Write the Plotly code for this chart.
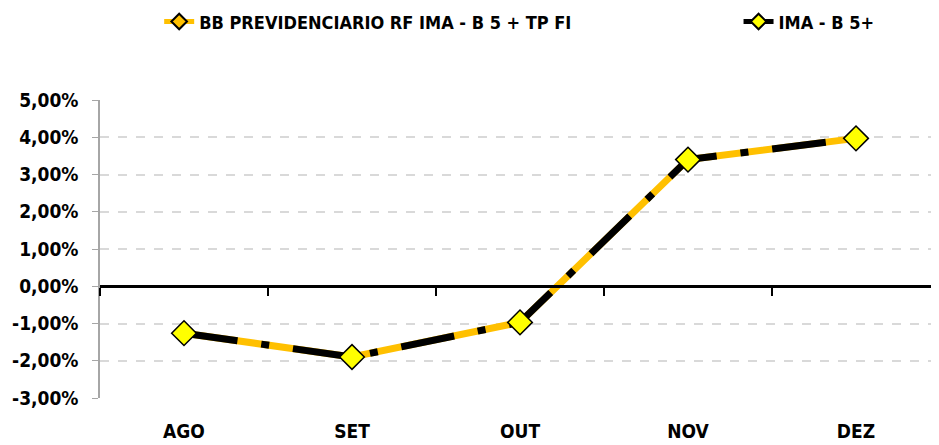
import plotly.graph_objects as go

months = ["AGO", "SET", "OUT", "NOV", "DEZ"]
bb_fund = [-1.26, -1.90, -0.97, 3.40, 3.97]
ima_b5 = [-1.26, -1.90, -0.97, 3.40, 3.97]
y_tickvals = [5, 4, 3, 2, 1, 0, -1, -2, -3]
y_ticktext = ["5,00%", "4,00%", "3,00%", "2,00%", "1,00%", "0,00%",
              "-1,00%", "-2,00%", "-3,00%"]

FONT = "DejaVu Sans Condensed, Liberation Sans Narrow, sans-serif"

fig = go.Figure()
fig.add_trace(go.Scatter(
    x=months, y=bb_fund, mode="lines+markers",
    name="BB PREVIDENCIARIO RF IMA - B 5 + TP FI", legend="legend",
    line=dict(color="#FFC000", width=7),
    marker=dict(symbol="diamond", size=10, color="#FFC000",
                line=dict(color="black", width=1.5)),
))
fig.add_trace(go.Scatter(
    x=months, y=ima_b5, mode="lines+markers",
    name="IMA - B 5+", legend="legend2",
    line=dict(color="black", width=7, dash="54px,24px,8px,24px"),
    marker=dict(symbol="diamond", size=19, color="#FFFF00",
                line=dict(color="black", width=1.5)),
))
fig.add_trace(go.Scatter(
    x=months, y=[None] * len(months), xaxis="x2", showlegend=False,
    hoverinfo="skip", mode="lines",
))

legend_common = dict(
    orientation="h", xref="container", yref="container",
    y=0.969, xanchor="left", yanchor="middle",
    font=dict(family=FONT, size=18, color="black", weight="bold"),
    itemsizing="constant", bgcolor="rgba(0,0,0,0)",
)

fig.update_layout(
    width=939, height=445,
    margin=dict(l=92, r=7, t=92, b=55, autoexpand=False),
    plot_bgcolor="white", paper_bgcolor="white",
    font=dict(family=FONT, color="black"),
    showlegend=True,
    legend=dict(x=0.161, **legend_common),
    legend2=dict(x=0.778, **legend_common),
    xaxis=dict(
        type="category", range=[-0.5, 4.5], anchor="free", position=0.375,
        showline=True, linecolor="black", linewidth=3,
        ticks="outside", tickson="boundaries", ticklen=8, tickwidth=2,
        tickcolor="black", showticklabels=False, showgrid=False,
        zeroline=False,
    ),
    xaxis2=dict(
        type="category", range=[-0.5, 4.5], overlaying="x", anchor="y",
        side="bottom", showline=False, ticks="", showgrid=False,
        ticklabelstandoff=20,
        tickfont=dict(family=FONT, size=19, color="black", weight="bold"),
    ),
    yaxis=dict(
        range=[-3, 5], tickvals=y_tickvals, ticktext=y_ticktext,
        showline=True, linecolor="#A6A6A6", linewidth=1.5,
        ticks="outside", ticklen=6, tickcolor="#A6A6A6",
        showgrid=True, gridcolor="#D9D9D9", griddash="dash", gridwidth=1.5,
        zeroline=False,
        tickfont=dict(family=FONT, size=19, color="black", weight="bold"),
        ticklabelstandoff=10,
    ),
)

fig.write_html("out.html")
